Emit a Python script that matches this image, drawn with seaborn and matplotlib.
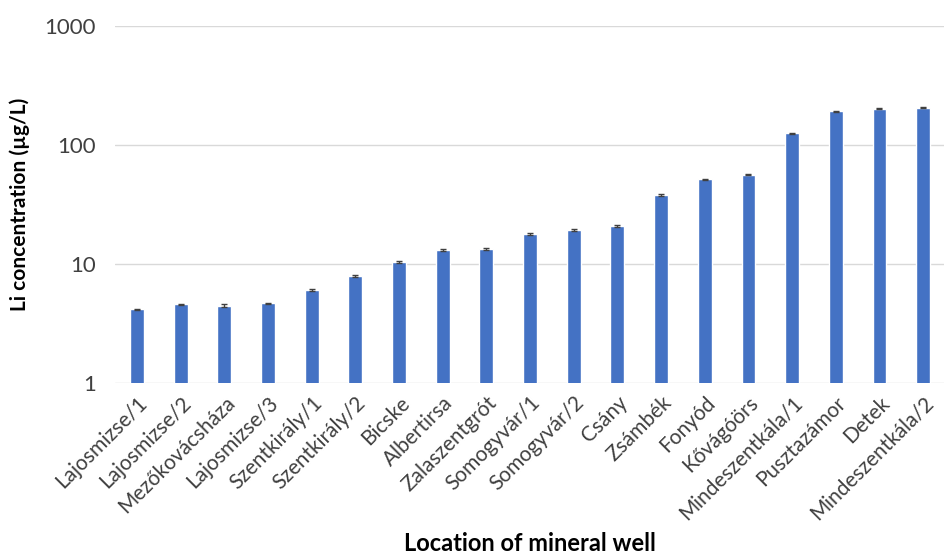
import matplotlib
matplotlib.use("Agg")
import matplotlib.pyplot as plt
import seaborn as sns
import pandas as pd

locations = [
    "Lajosmizse/1", "Lajosmizse/2", "Mezőkovácsháza", "Lajosmizse/3",
    "Szentkirály/1", "Szentkirály/2", "Bicske", "Albertirsa", "Zalaszentgrót",
    "Somogyvár/1", "Somogyvár/2", "Csány", "Zsámbék", "Fonyód", "Kővágóörs",
    "Mindeszentkála/1", "Pusztazámor", "Detek", "Mindeszentkála/2",
]
li_conc = [4.16, 4.59, 4.46, 4.67, 6.01, 7.97, 10.45, 13.1, 13.4,
           17.9, 19.3, 20.9, 38.2, 51.5, 56.3, 125.4, 192.0, 202.0, 207.0]
li_err = [0.04, 0.04, 0.12, 0.04, 0.1, 0.12, 0.18, 0.2, 0.25,
          0.25, 0.35, 0.4, 0.6, 0.5, 0.6, 1.2, 1.8, 1.8, 1.8]
y_ticks = [1, 10, 100, 1000]

df = pd.DataFrame({"location": locations, "li": li_conc, "err": li_err})

sns.set_theme(style="white")
plt.rcParams["font.family"] = ["Lato", "DejaVu Sans"]

fig = plt.figure(figsize=(9.45, 5.59), dpi=100)
ax = fig.add_axes([0.122, 0.315, 0.878, 0.638])

sns.barplot(data=df, x="location", y="li", color="#4472C4", width=0.32,
            saturation=1, errorbar=None, ax=ax, zorder=3)
ax.errorbar(range(len(df)), df["li"], yerr=df["err"], fmt="none",
            ecolor="#404040", elinewidth=1, capsize=2.5, capthick=1, zorder=4)

ax.set_yscale("log")
ax.set_ylim(1, 1000)
ax.set_xlim(-0.5, len(df) - 0.5)
ax.set_yticks(y_ticks)
ax.set_yticklabels([str(t) for t in y_ticks])
ax.minorticks_off()
ax.yaxis.grid(True, color="#d9d9d9", linewidth=1, zorder=0)
ax.set_axisbelow(True)
for s in ax.spines.values():
    s.set_visible(False)
ax.tick_params(axis="y", length=0, labelsize=16, colors="#404040", pad=14)
ax.tick_params(axis="x", length=0, labelsize=15, colors="#404040", pad=7)

plt.setp(ax.get_xticklabels(), rotation=45, ha="right",
         rotation_mode="anchor", color="#404040")

ax.set_xlabel("Location of mineral well", fontsize=17, fontweight="bold",
              color="black", labelpad=6)
ax.set_ylabel("Li concentration (µg/L)", fontsize=15, fontweight="bold",
              color="black", labelpad=10)

fig.savefig("out.png", dpi=100)
